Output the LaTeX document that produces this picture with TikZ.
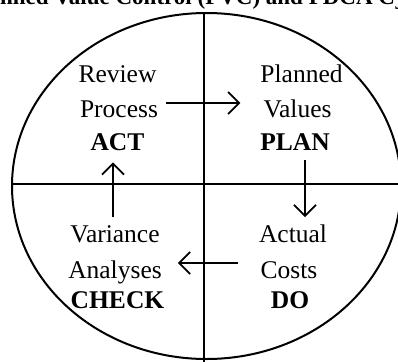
\documentclass[tikz,border=0pt]{standalone}
\usepackage{fontspec}
\setmainfont{Liberation Serif}
\usetikzlibrary{arrows.meta}
\begin{document}
\begin{tikzpicture}[x=1pt,y=-1pt,
  lbl/.style={anchor=base,inner sep=0pt,font=\fontsize{25.5}{30}\selectfont},
  blbl/.style={anchor=base,inner sep=0pt,font=\fontsize{25.5}{30}\selectfont\bfseries},
  arr/.style={line width=1.8pt,-{Straight Barb[length=11pt,width=22pt,line width=1.8pt]}},
  frame/.style={line width=2pt}]
\useasboundingbox (0,0) rectangle (398,361);
\clip (0,0) rectangle (398,361);
% title, cut by the top edge
\node[anchor=base west,inner sep=0pt,font=\fontsize{23}{28}\selectfont\bfseries] (title) at (-32,5) {Planned Value Control (PVC) and PDCA Cycle};
% frame
\coordinate (ctr) at (206.5,186);
\draw[frame] (ctr) ellipse [x radius=194.5pt, y radius=173pt];
\coordinate (vtop) at (203.5,13);
\coordinate (vbot) at (203.5,362);
\coordinate (hleft) at (12,183.5);
\coordinate (hright) at (399,183.5);
\draw[frame] (vtop) -- (vbot);
\draw[frame] (hleft) -- (hright);
% ACT quadrant
\node[lbl] (review) at (117.5,82) {Review};
\node[lbl] (process) at (119,117) {Process};
\node[blbl] (act) at (117.5,150) {ACT};
% PLAN quadrant
\node[lbl] (planned) at (301.5,82) {Planned};
\node[lbl] (values) at (297.5,117) {Values};
\node[blbl] (plan) at (295,150) {PLAN};
% CHECK quadrant
\node[lbl] (variance) at (115,242) {Variance};
\node[lbl] (analyses) at (115,278) {Analyses};
\node[blbl] (check) at (117.5,308) {CHECK};
% DO quadrant
\node[lbl] (actual) at (293,242) {Actual};
\node[lbl] (costs) at (289,278) {Costs};
\node[blbl] (do) at (290,308) {DO};
% cycle arrows
\draw[arr] ([xshift=8pt,yshift=14pt]process.base east) -- ([xshift=-23pt,yshift=14pt]values.base west);
\draw[arr] ([xshift=10pt,yshift=-10pt]plan.south) -- ([xshift=12pt,yshift=7pt]actual.north);
\draw[arr] ([xshift=-22pt,yshift=15pt]costs.base west) -- ([xshift=16pt,yshift=15pt]analyses.base east);
\draw[arr] ([xshift=-2pt,yshift=7.6pt]variance.north) -- ([xshift=-4.5pt,yshift=-12pt]act.south);
\end{tikzpicture}
\end{document}
